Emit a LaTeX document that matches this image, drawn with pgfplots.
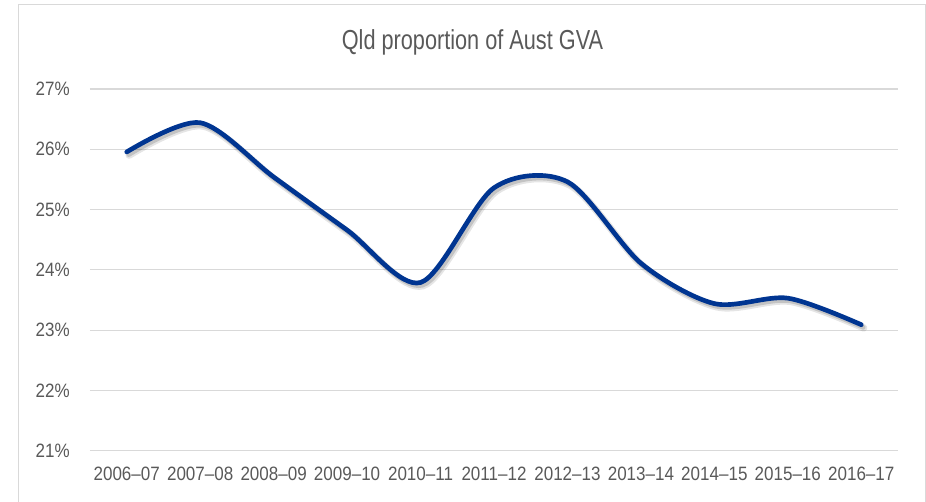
\documentclass[border=0pt]{standalone}
\usepackage{fontspec}
\setmainfont{Liberation Sans}
\newfontfamily\titlefont[FakeStretch=0.79]{Liberation Sans}
\newfontfamily\tickfont[FakeStretch=0.88]{Liberation Sans}
\usepackage{pgfplots}
\pgfplotsset{compat=1.18}
\definecolor{LineBlue}{HTML}{003591}
\definecolor{GridGray}{HTML}{D9D9D9}
\definecolor{TextGray}{HTML}{595959}

\begin{document}
\begin{tikzpicture}[x=0.75pt,y=0.75pt]
% page extent in reference pixels (axis box origin at 0,0)
\useasboundingbox (-90,-50.3) rectangle (836,450.7);
\draw[GridGray, line width=0.75pt] (-71,-60) -- (-71,445.7) -- (835,445.7) -- (835,-60);
\node[font=\titlefont\fontsize{20.6}{24}\selectfont, text=TextGray, anchor=base]
  at (382.5,400.7) {Qld proportion of Aust GVA};
\begin{axis}[
    at={(0,0)}, anchor=south west,
    scale only axis,
    width=606pt, height=271.3pt,
    xmin=-0.5, xmax=10.5,
    ymin=21, ymax=27,
    xtick={0,...,10},
    xticklabels={2006–07,2007–08,2008–09,2009–10,2010–11,2011–12,2012–13,2013–14,2014–15,2015–16,2016–17},
    ytick={21,22,...,27},
    yticklabel={\pgfmathprintnumber{\tick}\%},
    /pgf/number format/assume math mode=true,
    ticklabel style={font=\tickfont\fontsize{14.5}{17}\selectfont, text=TextGray, inner sep=0pt},
    yticklabel style={anchor=east, xshift=-15pt},
    xticklabel style={anchor=north, yshift=-12pt},
    major tick length=0pt,
    axis line style={draw=none},
    ymajorgrids,
    grid style={GridGray, line width=0.9pt},
    clip=false,
]
\addplot[LineBlue, line width=3.5pt, smooth, line cap=round,
  preaction={draw=black, opacity=0.10, line width=5.5pt, transform canvas={shift={(1.8pt,-2.4pt)}}},
  preaction={draw=black, opacity=0.15, line width=3.5pt, transform canvas={shift={(1.5pt,-2pt)}}},
] coordinates {
    (0,25.955) (1,26.44) (2,25.54) (3,24.66) (4,23.79) (5,25.36)
    (6,25.46) (7,24.11) (8,23.44) (9,23.53) (10,23.09)
};
\end{axis}
\end{tikzpicture}
\end{document}
